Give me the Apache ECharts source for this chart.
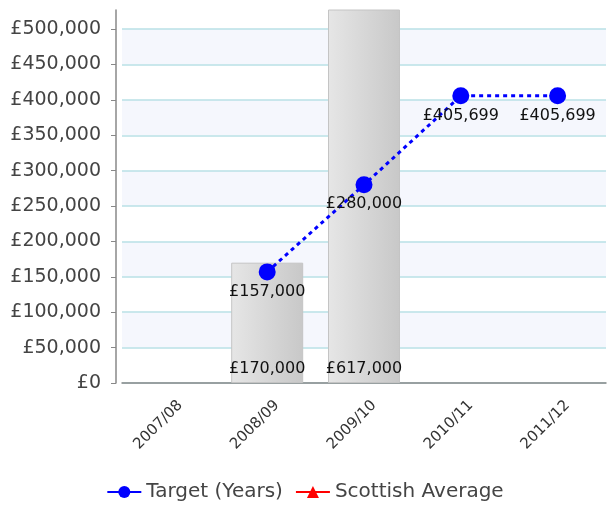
<!DOCTYPE html>
<html>
<head>
<meta charset="utf-8">
<script src="https://cdn.jsdelivr.net/npm/echarts@6/dist/echarts.min.js"></script>
<style>
  html, body { margin: 0; padding: 0; background: #fff; }
  #chart { width: 610px; height: 506px; }
</style>
</head>
<body>
<div id="chart"></div>
<script>
var years = ["2007/08", "2008/09", "2009/10", "2010/11", "2011/12"];
var spendValues = [null, 170000, 617000, null, null];
var targetValues = [null, 157000, 280000, 405699, 405699];
var scottishAverage = [null, null, null, null, null];

function money(v) {
  return "£" + String(v).replace(/\B(?=(\d{3})+(?!\d))/g, ",");
}

var myChart = echarts.init(document.getElementById("chart"));

var option = {
  animation: false,
  textStyle: { fontFamily: "DejaVu Sans" },
  grid: { left: 122, right: 4, top: 10, bottom: 123 },
  legend: {
    bottom: -1,
    left: "center",
    itemWidth: 34,
    itemHeight: 15,
    itemGap: 12,
    lineStyle: { type: "solid", width: 2 },
    textStyle: { fontSize: 20, color: "#444", fontFamily: "DejaVu Sans" },
    data: ["Target (Years)", "Scottish Average"],
  },
  xAxis: {
    type: "category",
    data: years,
    axisLine: { lineStyle: { color: "#888", width: 1.5 } },
    axisTick: { alignWithLabel: true, length: 4, lineStyle: { color: "#888" } },
    axisLabel: {
      rotate: 45,
      fontSize: 15,
      color: "#333",
      margin: 10,
      verticalAlign: "top",
      lineHeight: 28,
    },
  },
  yAxis: {
    type: "value",
    min: 0,
    max: 527000,
    interval: 50000,
    offset: 6,
    axisLine: { show: true, lineStyle: { color: "#888", width: 1.5 } },
    axisTick: { show: true, length: 5, lineStyle: { color: "#888" } },
    axisLabel: {
      fontSize: 19,
      color: "#444",
      margin: 15,
      showMaxLabel: false,
      formatter: function (v) {
        return v % 50000 === 0 ? money(v) : "";
      },
    },
    splitLine: {
      show: true,
      showMaxLine: false,
      lineStyle: { color: "#b8e0e6", width: 1.5 },
    },
    splitArea: {
      show: true,
      areaStyle: { color: ["#ffffff", "#f5f7fd"] },
    },
  },
  series: [
    {
      name: "Spend",
      type: "bar",
      data: spendValues,
      barWidth: 72,
      itemStyle: {
        color: new echarts.graphic.LinearGradient(0, 0, 1, 0, [
          { offset: 0, color: "#e6e6e6" },
          { offset: 1, color: "#c8c8c8" },
        ]),
        borderColor: "#c4c4c4",
        borderWidth: 1,
      },
      label: {
        show: true,
        position: "insideBottom",
        distance: 6,
        fontSize: 16,
        color: "#111",
        formatter: function (p) { return money(p.value); },
      },
      z: 2,
    },
    {
      name: "Target (Years)",
      type: "line",
      data: targetValues,
      symbol: "circle",
      symbolSize: 17,
      itemStyle: { color: "#0000ff" },
      lineStyle: { color: "#0000ff", width: 3, type: [4, 4] },
      label: {
        show: true,
        position: "bottom",
        distance: 3,
        fontSize: 16,
        color: "#111",
        formatter: function (p) { return money(p.value); },
      },
      z: 3,
    },
    {
      name: "Scottish Average",
      type: "line",
      data: scottishAverage,
      symbol: "triangle",
      symbolSize: 14,
      itemStyle: { color: "#ff0000" },
      lineStyle: { color: "#ff0000", width: 2 },
    },
  ],
};

myChart.setOption(option);
</script>
</body>
</html>
